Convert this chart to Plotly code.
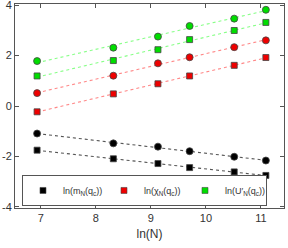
import numpy as np
import plotly.graph_objects as go

L = [32, 64, 96, 128, 192, 256]
lnN = [float(np.log(l * l)) for l in L]

ln_m_circ = [-1.09, -1.48, -1.61, -1.79, -2.01, -2.16]
ln_m_sq = [-1.75, -2.09, -2.28, -2.44, -2.61, -2.75]
ln_chi_circ = [0.51, 1.20, 1.69, 1.93, 2.33, 2.60]
ln_chi_sq = [-0.23, 0.48, 0.88, 1.19, 1.61, 1.92]
ln_U_circ = [1.78, 2.31, 2.75, 3.17, 3.46, 3.81]
ln_U_sq = [1.19, 1.80, 2.23, 2.63, 2.99, 3.31]

x_ticks = [7, 8, 9, 10, 11]
y_ticks = [-4, -2, 0, 2, 4]
y_ticktext = ["-4", "-2", "0", "2", "4"]

legend_names = ["ln(m<sub>N</sub>(q<sub>c</sub>))",
                "ln(χ<sub>N</sub>(q<sub>c</sub>))",
                "ln(U′<sub>N</sub>(q<sub>c</sub>))"]

fig = go.Figure()

series = [
    (ln_m_circ, "circle", "#000000", "#555555"),
    (ln_m_sq, "square", "#000000", "#555555"),
    (ln_chi_circ, "circle", "#ee0000", "#ff8888"),
    (ln_chi_sq, "square", "#ee0000", "#ff8888"),
    (ln_U_circ, "circle", "#00dd00", "#88ff88"),
    (ln_U_sq, "square", "#00dd00", "#88ff88"),
]

for ys, sym, col, lcol in series:
    p = np.polyfit(lnN, ys, 1)
    xf = [min(lnN), max(lnN)]
    yf = [float(np.polyval(p, v)) for v in xf]
    fig.add_trace(go.Scatter(x=xf, y=yf, mode="lines", showlegend=False,
                             line=dict(color=lcol, width=1.1, dash="dot"),
                             hoverinfo="skip"))

for ys, sym, col, lcol in series:
    fig.add_trace(go.Scatter(x=lnN, y=ys, mode="markers", showlegend=False,
                             marker=dict(symbol=sym, color=col,
                                         size=7 if sym == "circle" else 6,
                                         line=dict(color="#444444", width=0.8))))

for name, col in zip(legend_names, ["#000000", "#ee0000", "#00dd00"]):
    fig.add_trace(go.Scatter(x=[None], y=[None], mode="markers", name=name,
                             marker=dict(symbol="square", color=col, size=6,
                                         line=dict(color="#444444", width=0.6))))

fig.update_layout(
    width=288, height=248,
    margin=dict(l=15, r=4, t=4, b=40),
    plot_bgcolor="white", paper_bgcolor="white",
    font=dict(family="Liberation Sans, Arial, sans-serif", size=11, color="#333333"),
    legend=dict(orientation="h", x=0.026, y=0.01, xanchor="left", yanchor="bottom",
                bordercolor="#555555", borderwidth=1, bgcolor="white",
                font=dict(size=9), itemwidth=30, tracegroupgap=0,
                entrywidth=36, entrywidthmode="pixels"),
    xaxis=dict(range=[6.53, 11.42], tickvals=x_ticks, ticks="inside", ticklen=4,
               showgrid=False, zeroline=False, showline=True, linecolor="#555555",
               linewidth=1, mirror="ticks", tickcolor="#555555", automargin=False,
               title=dict(text="ln(N)", font=dict(size=12), standoff=6)),
    yaxis=dict(range=[-4.04, 4.04], tickvals=y_ticks, ticktext=y_ticktext,
               ticks="inside", ticklen=4, ticklabeloverflow="allow",
               showgrid=False, zeroline=False, showline=True, linecolor="#555555",
               linewidth=1, mirror="ticks", tickcolor="#555555", ticklabelstandoff=0,
               automargin=False),
)

fig.write_html("out.html", post_script="document.body.style.margin='0';",
               config={"displayModeBar": False})
